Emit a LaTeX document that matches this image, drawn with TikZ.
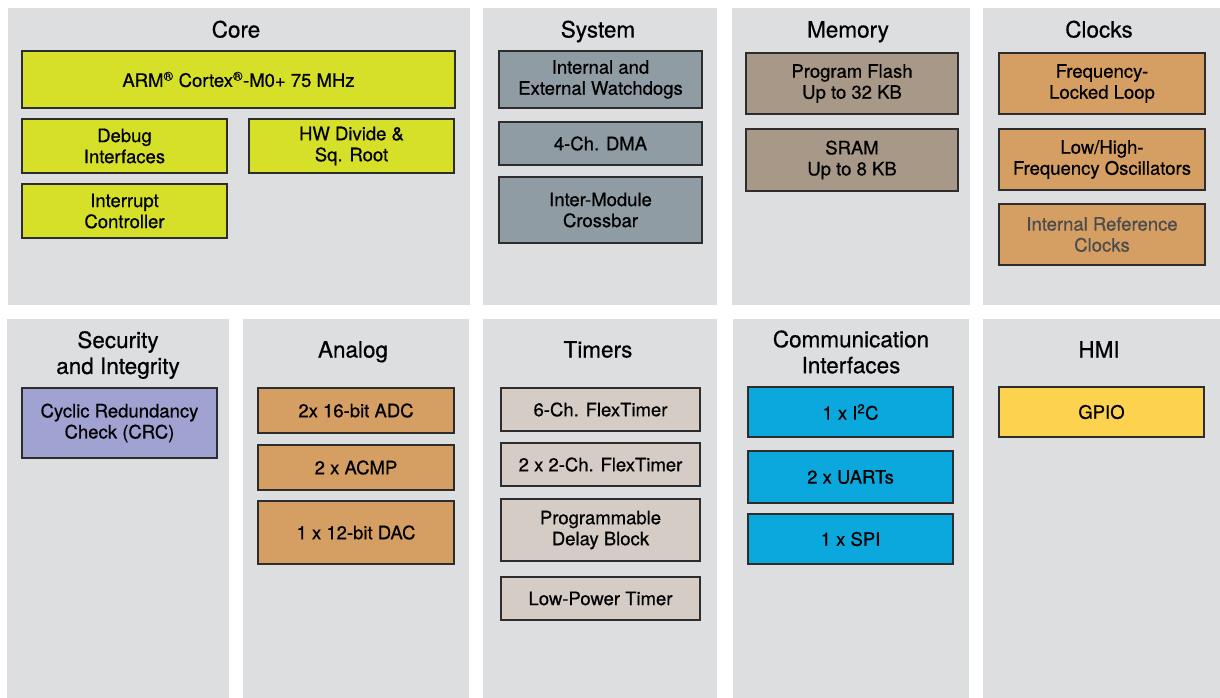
\documentclass[tikz,border=0pt]{standalone}
\usepackage{fontspec}
\setmainfont{TeX Gyre Heros}[FakeBold=0.6]
\usetikzlibrary{shapes, positioning, calc}

\definecolor{panelgray}{RGB}{221,222,224}
\definecolor{boxline}{RGB}{45,45,45}
\definecolor{coreyel}{RGB}{214,224,40}
\definecolor{sysgray}{RGB}{143,156,164}
\definecolor{memtaupe}{RGB}{167,152,135}
\definecolor{clkorange}{RGB}{213,158,98}
\definecolor{seclav}{RGB}{160,162,210}
\definecolor{tmrtaupe}{RGB}{212,204,197}
\definecolor{comblue}{RGB}{10,168,220}
\definecolor{gpioyel}{RGB}{253,210,79}

\begin{document}
\begin{tikzpicture}[x=1pt, y=-1pt,
	panel/.style={fill=panelgray, inner sep=0pt},
	ttl/.style={align=center, font=\fontsize{22.5}{26}\selectfont},
	blk/.style={draw=boxline, line width=1.3pt, align=center, inner sep=0pt, font=\fontsize{18.5}{21}\selectfont},
	core/.style={blk, fill=coreyel, minimum width=205pt},
	sys/.style={blk, fill=sysgray, minimum width=203pt},
	mem/.style={blk, fill=memtaupe, minimum width=212pt},
	clk/.style={blk, fill=clkorange, minimum width=206pt},
	ana/.style={blk, fill=clkorange, minimum width=196pt},
	tmr/.style={blk, fill=tmrtaupe, minimum width=199pt},
	com/.style={blk, fill=comblue, minimum width=205pt}]
	\useasboundingbox (0,0) rectangle (1220,698);
	% panels
	\foreach \n/\cx/\cy/\w/\h in {corep/239/156.5/462/297, sysp/600/156.5/234/297, memp/851/156.5/238/297, clkp/1101.5/156.5/237/297,
		secp/118/508.5/222/379, anap/356/508.5/226/379, tmrp/600/508.5/234/379, comp/851/508.5/236/379, hmip/1101.5/508.5/237/379}
		\node[panel, minimum width=\w*1pt, minimum height=\h*1pt] (\n) at (\cx,\cy) {};
	% titles
	\node[ttl, anchor=base] (coret) at (236,37.5) {Core};
	\node[ttl, anchor=base] (syst) at (598,37.5) {System};
	\node[ttl, anchor=base] (memt) at (848,37.5) {Memory};
	\node[ttl, anchor=base] (clkt) at (1099,37.5) {Clocks};
	\node[ttl] (sect) at (118,355) {Security\\and Integrity};
	\node[ttl, anchor=base] (anat) at (353,357.5) {Analog};
	\node[ttl, anchor=base] (tmrt) at (598,357.5) {Timers};
	\node[ttl] (comt) at (851,352) {Communication\\Interfaces};
	\node[ttl, anchor=base] (hmit) at (1099,357.5) {HMI};
	% core
	\node[core, minimum width=433pt, minimum height=57pt] (arm) at (238.5,79.5) {ARM\textsuperscript{®} Cortex\textsuperscript{®}-M0+ 75 MHz};
	\node[core, minimum height=54pt] (debug) at (124.5,146) {Debug\\Interfaces};
	\node[core, minimum height=54pt] (hwdiv) at (351.5,146) {HW Divide \&\\Sq. Root};
	\node[core, minimum height=54pt] (intr) at (124.5,211) {Interrupt\\Controller};
	% system
	\node[sys, minimum height=57pt] (wdog) at (600.5,79.5) {Internal and\\External Watchdogs};
	\node[sys, minimum height=43pt] (dma) at (600.5,143.5) {4-Ch. DMA};
	\node[sys, minimum height=66pt] (xbar) at (600.5,210) {Inter-Module\\Crossbar};
	% memory
	\node[mem, minimum height=61pt] (flash) at (852,83.5) {Program Flash\\Up to 32 KB};
	\node[mem, minimum height=62pt] (sram) at (852,160) {SRAM\\Up to 8 KB};
	% clocks
	\node[clk, minimum height=61pt] (fll) at (1102,83.5) {Frequency-\\Locked Loop};
	\node[clk, minimum height=61pt] (osc) at (1102,159.5) {Low/High-\\Frequency Oscillators};
	\node[clk, minimum height=61pt, text=black!70] (irc) at (1102,234.5) {Internal Reference\\Clocks};
	% security
	\node[blk, fill=seclav, minimum width=195pt, minimum height=70pt] (crc) at (119.5,423) {Cyclic Redundancy\\Check (CRC)};
	% analog
	\node[ana, minimum height=45pt] (adc) at (356,410.5) {2x 16-bit ADC};
	\node[ana, minimum height=45pt] (acmp) at (356,467.5) {2 x ACMP};
	\node[ana, minimum height=63pt] (dac) at (356,532.5) {1 x 12-bit DAC};
	% timers
	\node[tmr, minimum height=43pt] (ftma) at (600.5,409.5) {6-Ch. FlexTimer};
	\node[tmr, minimum height=43pt] (ftmb) at (600.5,464.5) {2 x 2-Ch. FlexTimer};
	\node[tmr, minimum height=62pt] (pdb) at (600.5,530) {Programmable\\Delay Block};
	\node[tmr, minimum height=43pt] (lpt) at (600.5,598.5) {Low-Power Timer};
	% communication
	\node[com, minimum height=50pt] (iic) at (850.5,412) {1 x I\textsuperscript{2}C};
	\node[com, minimum height=52pt] (uart) at (850.5,477) {2 x UARTs};
	\node[com, minimum height=50pt] (spi) at (850.5,539) {1 x SPI};
	% hmi
	\node[blk, fill=gpioyel, minimum width=205pt, minimum height=50pt] (gpio) at (1101.5,412) {GPIO};
\end{tikzpicture}
\end{document}
